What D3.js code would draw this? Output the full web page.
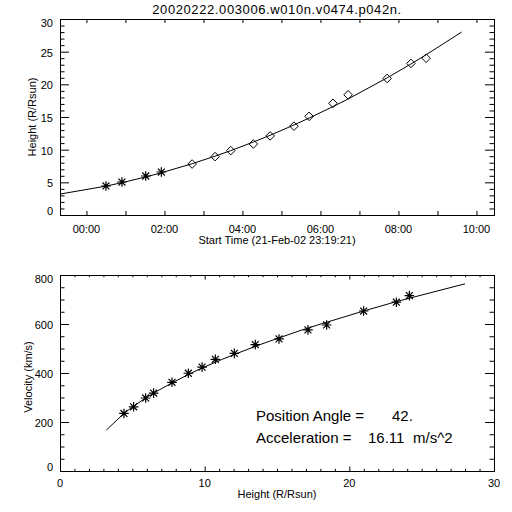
<!DOCTYPE html>
<html><head><meta charset="utf-8">
<script src="https://cdn.jsdelivr.net/npm/d3@7"></script>
<style>
body{margin:0;background:#fff}
text{font-family:"Liberation Sans",Arial,sans-serif;fill:#000}
</style>
</head><body>
<svg id="c" width="512" height="512" style="display:block;background:#fff"></svg>
<script>
// ---------- data ----------
const titleText = "20020222.003006.w010n.v0474.p042n.";
const xTitleTop = "Start Time (21-Feb-02 23:19:21)";
const yTitleTop = "Height (R/Rsun)";
const xTitleBottom = "Height (R/Rsun)";
const yTitleBottom = "Velocity (km/s)";

// top panel: observed heights vs time (hours after 22-Feb 00:00)
const obsTimes   = [0.50,0.91,1.52,1.92,2.71,3.30,3.70,4.28,4.71,5.32,5.71,6.32,6.71,7.71,8.32,8.71];
const obsHeights = [4.44,5.05,5.97,6.58,7.80,8.93,9.85,10.87,12.1,13.6,15.1,17.1,18.4,20.9,23.2,24.0];
const obsSymbols = ["star","star","star","star","diamond","diamond","diamond","diamond","diamond","diamond","diamond","diamond","diamond","diamond","diamond","diamond"];

// fitted curve
const fitTimes   = [-0.68,0.50,0.91,1.52,1.92,2.71,3.30,3.70,4.28,4.71,5.32,5.71,6.32,6.71,7.71,8.32,8.71,9.62];
const fitHeights = [3.20,4.42,4.95,5.82,6.46,7.85,9.01,9.85,11.17,12.20,13.78,14.84,16.59,17.76,20.99,23.11,24.53,28.00];
const fitVelocities = [167,235,259,294,318,363,398,421,455,479,515,537,573,595,653,689,711,764];

// bottom panel: velocity vs height points
const velHeights = [4.42,5.09,5.92,6.47,7.74,8.87,9.82,10.74,12.05,13.5,15.14,17.14,18.43,20.99,23.25,24.15];
const velValues  = [235,262,298,318,362,399,424,456,480,516,539,576,596,653,689,716];

// axis ticks
const timeTicks = [0,1,2,3,4,5,6,7,8,9,10];
const timeLabelVals = [0,2,4,6,8,10];
const timeLabels = ["00:00","02:00","04:00","06:00","08:00","10:00"];
const topYMajor = [0,5,10,15,20,25,30];
const topYMinor = d3.range(0,31,1);
const botXMajor = [0,10,20,30];
const botXMinor = d3.range(0,31,1);
const botYMajor = [0,200,400,600,800];
const botYMinor = d3.range(0,801,50);

const annot1 = ["Position Angle =", "42."];
const annot2 = ["Acceleration =", "16.11", "m/s^2"];

// ---------- layout ----------
const svg = d3.select("#c");
const L = 60, R = 494;
const top1 = 19, bot1 = 215;
const top2 = 275, bot2 = 471;

const xT = d3.scaleLinear().domain([-0.678, 10.45]).range([L, R]);
const yT = d3.scaleLinear().domain([0, 30]).range([bot1, top1]);
const xB = d3.scaleLinear().domain([0, 30]).range([L, R]);
const yB = d3.scaleLinear().domain([0, 800]).range([bot2, top2]);

function frame(t, b) {
  svg.append("rect").attr("x", L + 0.5).attr("y", t + 0.5)
    .attr("width", R - L).attr("height", b - t)
    .attr("fill", "none").attr("stroke", "#000").attr("stroke-width", 1);
}
function ticks(axisFn, scale, vals, size, tx, ty) {
  svg.append("g").attr("transform", `translate(${tx},${ty})`)
    .call(axisFn(scale).tickValues(vals).tickSize(size).tickFormat(""))
    .call(g => g.select(".domain").remove())
    .call(g => g.selectAll("line").attr("stroke", "#000"));
}

// ---------- top panel ----------
frame(top1, bot1);
ticks(d3.axisBottom, xT, timeTicks, -4, 0, bot1);
ticks(d3.axisTop, xT, timeTicks, -4, 0, top1);
ticks(d3.axisLeft, yT, topYMinor.filter(v => v % 5), -4.5, L, 0);
ticks(d3.axisLeft, yT, topYMajor, -9, L, 0);
ticks(d3.axisRight, yT, topYMinor.filter(v => v % 5), -4.5, R, 0);
ticks(d3.axisRight, yT, topYMajor, -9, R, 0);

svg.append("g").selectAll("text").data(timeLabelVals).join("text")
  .attr("x", d => xT(d)).attr("y", bot1 + 18).attr("text-anchor", "middle")
  .attr("font-size", 11).text((d, i) => timeLabels[i]);
svg.append("g").selectAll("text").data(topYMajor).join("text")
  .attr("x", 53).attr("y", d => Math.min(Math.max(yT(d) + 1, top1 + 4), bot1 - 3.5))
  .attr("dy", "0.35em").attr("text-anchor", "end")
  .attr("font-size", 11).text(d => d);

svg.append("text").attr("x", (L + R) / 2).attr("y", 14).attr("text-anchor", "middle")
  .attr("font-size", 13).attr("letter-spacing", 0.6).text(titleText);
svg.append("text").attr("x", (L + R) / 2).attr("y", 244).attr("text-anchor", "middle")
  .attr("font-size", 11).text(xTitleTop);
svg.append("text").attr("transform", `translate(36,${(top1 + bot1) / 2}) rotate(-90)`)
  .attr("text-anchor", "middle").attr("font-size", 11).text(yTitleTop);

const lineT = d3.line().x((d, i) => xT(fitTimes[i])).y(d => yT(d));
svg.append("path").attr("d", lineT(fitHeights)).attr("fill", "none")
  .attr("stroke", "#000").attr("stroke-width", 1);

function star(g, x, y, r) {
  const d = r * 0.72;
  g.append("path").attr("d",
    `M${x - r},${y}L${x + r},${y}M${x},${y - r}L${x},${y + r}` +
    `M${x - d},${y - d}L${x + d},${y + d}M${x - d},${y + d}L${x + d},${y - d}`)
    .attr("stroke", "#000").attr("stroke-width", 1.2).attr("fill", "none");
}
function diamond(g, x, y, r) {
  g.append("path").attr("d", `M${x},${y - r}L${x + r},${y}L${x},${y + r}L${x - r},${y}Z`)
    .attr("stroke", "#000").attr("stroke-width", 1).attr("fill", "none");
}
const gP = svg.append("g");
obsTimes.forEach((t, i) => {
  const x = xT(t), y = yT(obsHeights[i]);
  if (obsSymbols[i] === "star") star(gP, x, y, 4.8); else diamond(gP, x, y, 4.3);
});

// ---------- bottom panel ----------
frame(top2, bot2);
ticks(d3.axisBottom, xB, botXMinor.filter(v => v % 10), -2.2, 0, bot2);
ticks(d3.axisBottom, xB, botXMajor, -4.5, 0, bot2);
ticks(d3.axisTop, xB, botXMinor.filter(v => v % 10), -2.2, 0, top2);
ticks(d3.axisTop, xB, botXMajor, -4.5, 0, top2);
ticks(d3.axisLeft, yB, botYMinor.filter(v => v % 200), -4.5, L, 0);
ticks(d3.axisLeft, yB, botYMajor, -9, L, 0);
ticks(d3.axisRight, yB, botYMinor.filter(v => v % 200), -4.5, R, 0);
ticks(d3.axisRight, yB, botYMajor, -9, R, 0);

svg.append("g").selectAll("text").data(botXMajor).join("text")
  .attr("x", d => xB(d)).attr("y", bot2 + 16).attr("text-anchor", "middle")
  .attr("font-size", 11).text(d => d);
svg.append("g").selectAll("text").data(botYMajor).join("text")
  .attr("x", 53).attr("y", d => Math.min(Math.max(yB(d) + 1, top2 + 4), bot2 - 3.5))
  .attr("dy", "0.35em").attr("text-anchor", "end")
  .attr("font-size", 11).text(d => d);

svg.append("text").attr("x", (L + R) / 2).attr("y", 498).attr("text-anchor", "middle")
  .attr("font-size", 11).text(xTitleBottom);
svg.append("text").attr("transform", `translate(32,${(top2 + bot2) / 2 + 4}) rotate(-90)`)
  .attr("text-anchor", "middle").attr("font-size", 11).text(yTitleBottom);

const lineB = d3.line().x((d, i) => xB(fitHeights[i])).y(d => yB(d));
svg.append("path").attr("d", lineB(fitVelocities)).attr("fill", "none")
  .attr("stroke", "#000").attr("stroke-width", 1);

const gV = svg.append("g");
velHeights.forEach((h, i) => star(gV, xB(h), yB(velValues[i]), 4.8));

// annotations
const a1 = svg.append("text").attr("y", 421).attr("font-size", 15);
a1.append("tspan").attr("x", 256).text(annot1[0]);
a1.append("tspan").attr("x", 392).text(annot1[1]);
const a2 = svg.append("text").attr("y", 443).attr("font-size", 15);
a2.append("tspan").attr("x", 256).text(annot2[0]);
a2.append("tspan").attr("x", 368).text(annot2[1]);
a2.append("tspan").attr("x", 413).text(annot2[2]);
</script>
</body></html>
